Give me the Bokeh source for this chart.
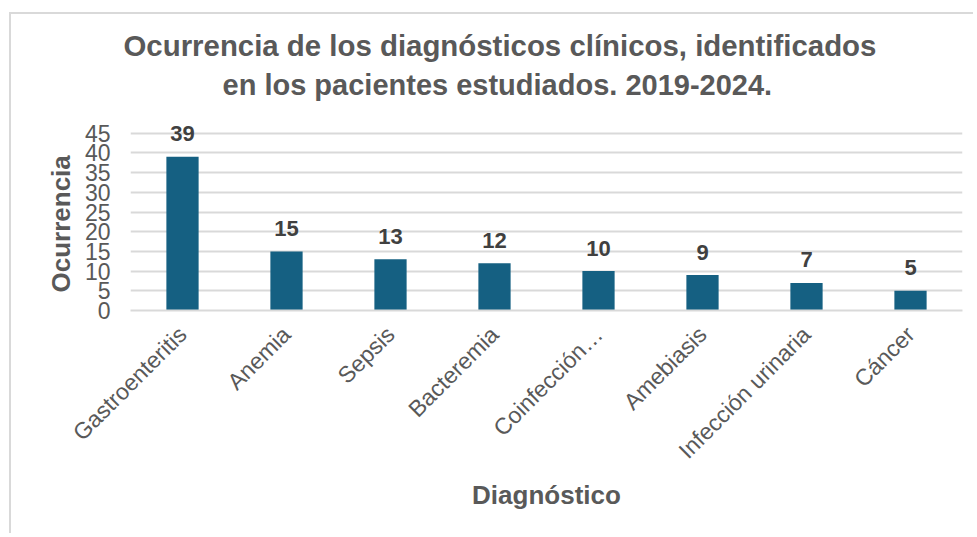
from bokeh.plotting import figure
from bokeh.models import ColumnDataSource, FixedTicker, Range1d, Title
from bokeh.core.properties import value
from bokeh.embed import file_html
from bokeh.resources import INLINE
import math

categories = ["Gastroenteritis", "Anemia", "Sepsis", "Bacteremia", "Coinfección…",
              "Amebiasis", "Infección urinaria", "Cáncer"]
counts = [39, 15, 13, 12, 10, 9, 7, 5]
y_ticks = [0, 5, 10, 15, 20, 25, 30, 35, 40, 45]
title_lines = ["Ocurrencia de los diagnósticos clínicos, identificados",
               "en los pacientes estudiados. 2019-2024."]
y_label = "Ocurrencia"
x_label = "Diagnóstico"

FONT = "Liberation Sans"
GRAY = "#595959"

src = ColumnDataSource(dict(cat=categories, n=counts, lab=[str(c) for c in counts]))

p = figure(x_range=categories, y_range=Range1d(0, 50), width=964, height=521,
           output_backend="svg", toolbar_location=None,
           min_border_left=119, min_border_right=13, min_border_top=99, min_border_bottom=225)
p.styles = {"margin-left": "9px", "margin-top": "12px",
            "border-left": "2px solid #d9d9d9", "border-top": "2px solid #d9d9d9"}
p.outline_line_color = None
p.background_fill_color = "white"

p.vbar(x="cat", top="n", width=0.31, source=src, fill_color="#156082", line_color=None)
p.text(x="cat", y="n", text="lab", source=src, y_offset=-23,
       text_align="center", text_baseline="middle", text_font=value(FONT),
       text_font_style="bold", text_font_size="22px", text_color="#404040")

p.x_range.range_padding = 0
p.xgrid.grid_line_color = None
p.ygrid.grid_line_color = "#d9d9d9"
p.ygrid.grid_line_width = 2
p.yaxis.ticker = FixedTicker(ticks=y_ticks)

for ax in (p.xaxis, p.yaxis):
    ax.major_tick_line_color = None
    ax.minor_tick_line_color = None
    ax.major_label_text_font = FONT
    ax.major_label_text_font_size = "23px"
    ax.major_label_text_color = GRAY
    ax.axis_label_text_font = FONT
    ax.axis_label_text_font_style = "bold"
    ax.axis_label_text_font_size = "26px"
    ax.axis_label_text_color = GRAY

p.yaxis.axis_line_color = None
p.yaxis.major_label_standoff = 14
p.xaxis.axis_line_color = "#d9d9d9"
p.xaxis.axis_line_width = 2
p.xaxis.major_label_orientation = math.pi / 4
p.xaxis.major_label_standoff = 14
p.xaxis.axis_label = x_label
p.xaxis.axis_label_standoff = 4

# y-axis title centred on the 0-45 part of the axis
ty = Title(text=y_label, align="left", offset=18, standoff=12,
           text_font=FONT, text_font_style="bold", text_font_size="26px", text_color=GRAY)
p.add_layout(ty, "left")

t2 = Title(text=title_lines[1], align="left", offset=92, standoff=26,
           text_font=FONT, text_font_style="bold", text_font_size="29px", text_color=GRAY)
t1 = Title(text=title_lines[0], align="left", offset=-7, standoff=-16,
           text_font=FONT, text_font_style="bold", text_font_size="29.4px", text_color=GRAY)
p.add_layout(t2, "above")
p.add_layout(t1, "above")

open("out.html", "w").write(file_html(p, INLINE))
